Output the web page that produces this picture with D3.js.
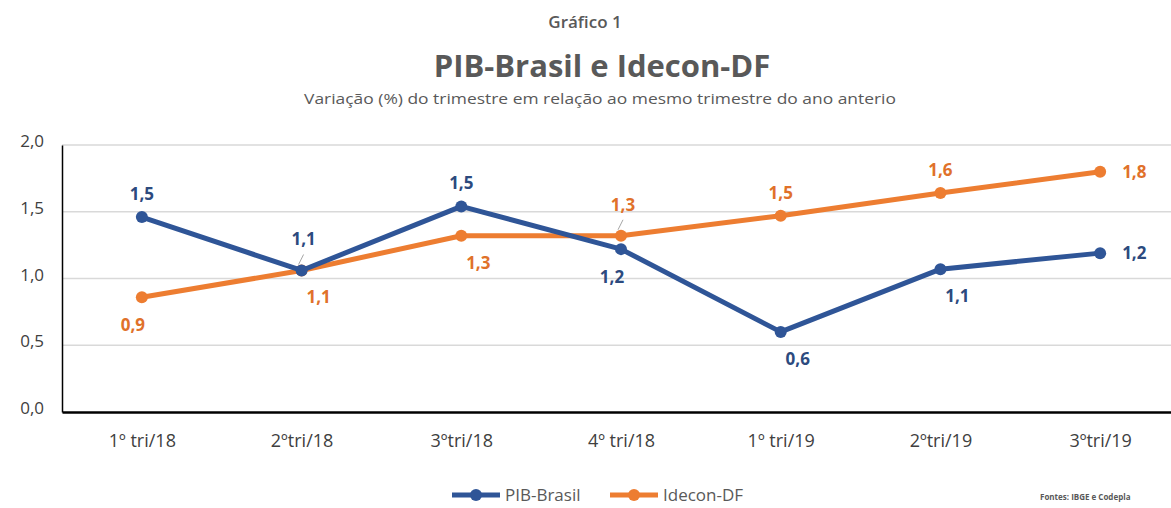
<!DOCTYPE html>
<html lang="pt">
<head>
<meta charset="utf-8">
<title>PIB-Brasil e Idecon-DF</title>
<script src="https://cdn.jsdelivr.net/npm/d3@7"></script>
<style>
  body { margin: 0; background: #fff; }
  svg { display: block; font-family: "Open Sans", "DejaVu Sans", sans-serif; }
  .grid line { stroke: #d9d9d9; stroke-width: 1.5px; }
  .tick text { fill: #404040; font-family: "Open Sans", sans-serif; }
</style>
</head>
<body>
<div id="chart"></div>
<script>
// categories and series
var quarters = ["1º tri/18", "2ºtri/18", "3ºtri/18", "4º tri/18", "1º tri/19", "2ºtri/19", "3ºtri/19"];
var pibBrasil = [1.46, 1.06, 1.54, 1.22, 0.60, 1.07, 1.19];
var ideconDF = [0.86, 1.06, 1.32, 1.32, 1.47, 1.64, 1.80];
// where each data label sits relative to its point
var pibLabelPos = ["above", "leader", "above", "belowL", "belowR", "belowR", "right"];
var ideconLabelPos = ["belowL", "belowR", "belowR", "leader", "above", "above", "right"];
var yTicks = [0, 0.5, 1.0, 1.5, 2.0];

var width = 1171, height = 508;
var margin = { top: 145, right: -9, bottom: 96, left: 62 };
var innerW = width - margin.left - margin.right;
var innerH = height - margin.top - margin.bottom;

var fmt = function (d) { return d3.format(".1f")(d).replace(".", ","); };

var svg = d3.select("#chart").append("svg")
  .attr("width", width)
  .attr("height", height);

// titles
svg.append("text").attr("x", 585).attr("y", 28)
  .attr("text-anchor", "middle").attr("font-size", 17).attr("font-weight", 600)
  .attr("fill", "#595959").text("Gráfico 1");
svg.append("text").attr("x", 602).attr("y", 77)
  .attr("text-anchor", "middle").attr("font-size", 31).attr("font-weight", 700)
  .attr("fill", "#595959").text("PIB-Brasil e Idecon-DF");
svg.append("text").attr("x", 600).attr("y", 104)
  .attr("text-anchor", "middle").attr("font-size", 15)
  .attr("textLength", 592).attr("lengthAdjust", "spacingAndGlyphs")
  .attr("fill", "#595959").text("Variação (%) do trimestre em relação ao mesmo trimestre do ano anterio");

var g = svg.append("g").attr("transform", "translate(" + margin.left + "," + margin.top + ")");

var x = d3.scalePoint().domain(quarters).range([0, innerW]).padding(0.5);
var y = d3.scaleLinear().domain([0, 2]).range([innerH, 0]);

// gridlines
g.append("g").attr("class", "grid")
  .selectAll("line").data(yTicks.slice(1)).join("line")
  .attr("x1", 0).attr("x2", innerW)
  .attr("y1", function (d) { return y(d); })
  .attr("y2", function (d) { return y(d); });

// y axis
var yAxis = g.append("g")
  .call(d3.axisLeft(y).tickValues(yTicks).tickSize(0).tickPadding(18).tickFormat(fmt));
yAxis.attr("font-family", null);
yAxis.select(".domain").attr("stroke", "#000").attr("stroke-width", 1.5);
yAxis.selectAll(".tick text").attr("font-size", 17).attr("dy", "0.1em");

// x axis
var xAxis = g.append("g").attr("transform", "translate(0," + innerH + ")")
  .call(d3.axisBottom(x).tickSize(0).tickPadding(22));
xAxis.attr("font-family", null);
xAxis.select(".domain").attr("stroke", "#000").attr("stroke-width", 2.5);
xAxis.selectAll(".tick text").attr("font-size", 18);

var series = [
  { name: "PIB-Brasil", values: pibBrasil, pos: pibLabelPos, color: "#2f5597", labelColor: "#2c4a7e" },
  { name: "Idecon-DF", values: ideconDF, pos: ideconLabelPos, color: "#ed7d31", labelColor: "#e0712a" }
];

var line = d3.line()
  .x(function (d, i) { return x(quarters[i]); })
  .y(function (d) { return y(d); });

// draw orange first, blue over it where they cross
[series[1], series[0]].forEach(function (s) {
  g.append("path").datum(s.values)
    .attr("fill", "none").attr("stroke", s.color)
    .attr("stroke-width", 5).attr("stroke-linejoin", "round")
    .attr("d", line);
  g.selectAll(null).data(s.values).join("circle")
    .attr("cx", function (d, i) { return x(quarters[i]); })
    .attr("cy", function (d) { return y(d); })
    .attr("r", 6).attr("fill", s.color);
});

var offX = { above: 0, leader: 2, belowL: -9, belowR: 17, right: 22 };
var offY = { above: -23, leader: -31, belowL: 28, belowR: 27, right: 0 };

// data labels (with short leader lines where excel pushed them away)
series.forEach(function (s) {
  s.values.forEach(function (d, i) {
    var p = s.pos[i], px = x(quarters[i]), py = y(d);
    if (p === "leader") {
      g.append("line")
        .attr("x1", px - 3).attr("y1", py - 6)
        .attr("x2", px + 2).attr("y2", py - 16)
        .attr("stroke", "#a6a6a6").attr("stroke-width", 1);
    }
    g.append("text")
      .attr("x", px + offX[p])
      .attr("y", py + offY[p])
      .attr("dy", "0.35em")
      .attr("text-anchor", p === "right" ? "start" : "middle")
      .attr("font-size", 17).attr("font-weight", 700)
      .attr("fill", s.labelColor)
      .text(fmt(d));
  });
});

// legend
var legend = svg.append("g").attr("transform", "translate(452,495)");
series.forEach(function (s, i) {
  var lg = legend.append("g").attr("transform", "translate(" + (i * 158) + ",0)");
  lg.append("line").attr("x1", 0).attr("x2", 48).attr("stroke", s.color).attr("stroke-width", 5);
  lg.append("circle").attr("cx", 24).attr("r", 6).attr("fill", s.color);
  lg.append("text").attr("x", 53).attr("dy", "0.35em")
    .attr("font-size", 17).attr("fill", "#595959").text(s.name);
});

svg.append("text").attr("x", 1040).attr("y", 500)
  .attr("font-size", 8).attr("font-weight", 700).attr("fill", "#595959")
  .text("Fontes: IBGE e Codepla");
</script>
</body>
</html>
